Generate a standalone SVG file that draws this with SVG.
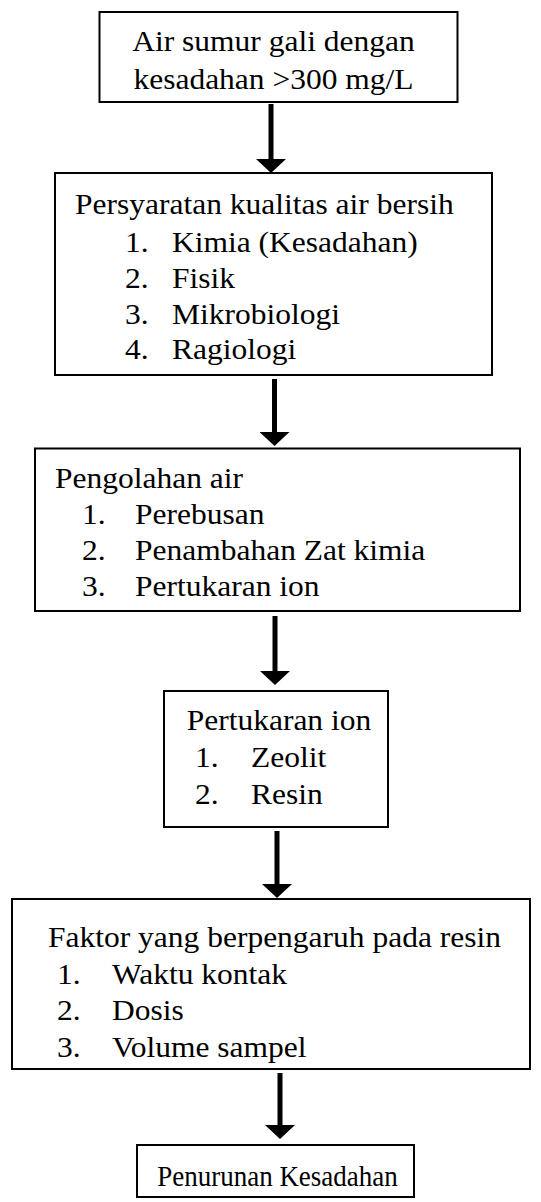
<svg xmlns="http://www.w3.org/2000/svg" width="541" height="1202" viewBox="0 0 541 1202">
<style>
.box{fill:#fff;stroke:#000;stroke-width:2}
.t{font-family:"Liberation Serif","Times New Roman",serif;font-size:30px;fill:#000}
.c{text-anchor:middle}
.arr{stroke:#000;stroke-width:5;fill:none}
</style>
<defs>
<marker id="ah" markerUnits="userSpaceOnUse" viewBox="0 0 14 30" refX="0" refY="15" markerWidth="14" markerHeight="30" orient="auto">
<path d="M0,0 L14,15 L0,30 Z" fill="#000"/>
</marker>
</defs>
<rect width="541" height="1202" fill="#fff"/>
<g id="connectors">
<line class="arr" x1="271" y1="104" x2="271" y2="159" marker-end="url(#ah)"/>
<line class="arr" x1="274.5" y1="379" x2="274.5" y2="432" marker-end="url(#ah)"/>
<line class="arr" x1="275" y1="616" x2="275" y2="671" marker-end="url(#ah)"/>
<line class="arr" x1="277" y1="831" x2="277" y2="884" marker-end="url(#ah)"/>
<line class="arr" x1="280" y1="1073" x2="280" y2="1125" marker-end="url(#ah)"/>
</g>
<g id="node1">
<rect class="box" x="99.5" y="12" width="358" height="90"/>
<text class="t c" transform="translate(273.5 50.5) scale(1.05 1)">Air sumur gali dengan</text>
<text class="t c" transform="translate(273.5 88.5) scale(1.05 1)">kesadahan &gt;300 mg/L</text>
</g>
<g id="node2">
<rect class="box" x="55" y="173" width="437" height="202"/>
<text class="t" transform="translate(75 213.5) scale(1.05 1)">Persyaratan kualitas air bersih</text>
<text class="t" transform="translate(125 251.5) scale(1.05 1)">1.</text>
<text class="t" transform="translate(172 251.5) scale(1.05 1)">Kimia (Kesadahan)</text>
<text class="t" transform="translate(125 287.5) scale(1.05 1)">2.</text>
<text class="t" transform="translate(172 287.5) scale(1.05 1)">Fisik</text>
<text class="t" transform="translate(125 323.5) scale(1.05 1)">3.</text>
<text class="t" transform="translate(172 323.5) scale(1.05 1)">Mikrobiologi</text>
<text class="t" transform="translate(125 359) scale(1.05 1)">4.</text>
<text class="t" transform="translate(172 359) scale(1.05 1)">Ragiologi</text>
</g>
<g id="node3">
<rect class="box" x="35" y="448.5" width="485" height="162.5"/>
<text class="t" transform="translate(55 487.5) scale(1.05 1)">Pengolahan air</text>
<text class="t" transform="translate(82 523.5) scale(1.05 1)">1.</text>
<text class="t" transform="translate(135 523.5) scale(1.05 1)">Perebusan</text>
<text class="t" transform="translate(82 559.5) scale(1.05 1)">2.</text>
<text class="t" transform="translate(135 559.5) scale(1.05 1)">Penambahan Zat kimia</text>
<text class="t" transform="translate(82 595.5) scale(1.05 1)">3.</text>
<text class="t" transform="translate(135 595.5) scale(1.05 1)">Pertukaran ion</text>
</g>
<g id="node4">
<rect class="box" x="164" y="691" width="224" height="136"/>
<text class="t" transform="translate(186.7 730) scale(1.05 1)">Pertukaran ion</text>
<text class="t" transform="translate(195 767) scale(1.05 1)">1.</text>
<text class="t" transform="translate(251 767) scale(1.05 1)">Zeolit</text>
<text class="t" transform="translate(195 804) scale(1.05 1)">2.</text>
<text class="t" transform="translate(251 804) scale(1.05 1)">Resin</text>
</g>
<g id="node5">
<rect class="box" x="12" y="899" width="518" height="170"/>
<text class="t" transform="translate(48 947) scale(1.05 1)">Faktor yang berpengaruh pada resin</text>
<text class="t" transform="translate(57 983.5) scale(1.05 1)">1.</text>
<text class="t" transform="translate(112 983.5) scale(1.05 1)">Waktu kontak</text>
<text class="t" transform="translate(57 1020) scale(1.05 1)">2.</text>
<text class="t" transform="translate(112 1020) scale(1.05 1)">Dosis</text>
<text class="t" transform="translate(57 1056.5) scale(1.05 1)">3.</text>
<text class="t" transform="translate(112 1056.5) scale(1.05 1)">Volume sampel</text>
</g>
<g id="node6">
<rect class="box" x="137" y="1145" width="277" height="52"/>
<text class="t c" transform="translate(277.5 1185.5) scale(0.9 1)">Penurunan Kesadahan</text>
</g>
</svg>
